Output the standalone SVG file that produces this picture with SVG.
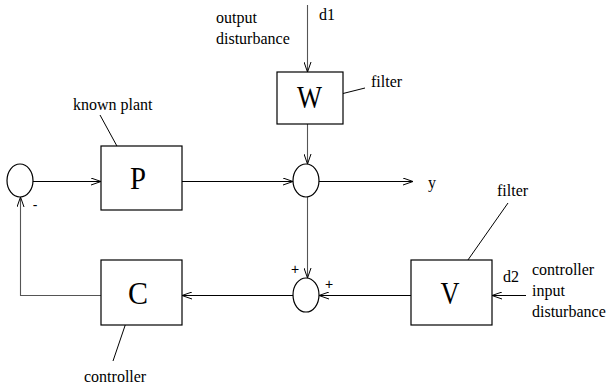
<svg xmlns="http://www.w3.org/2000/svg" width="606" height="388" viewBox="0 0 606 388">
<defs>
<style>
.box{fill:#fff;stroke:#000;stroke-width:1.2}
.sum{fill:none;stroke:#000;stroke-width:1.2}
.ln{fill:none;stroke:#000;stroke-width:1}
.vl{fill:none;stroke:#555;stroke-width:1.1}
.lbl{font-family:"Liberation Serif","Times New Roman",serif;font-size:16px;fill:#000}
.big{font-family:"Liberation Serif","Times New Roman",serif;font-size:32px;fill:#000;text-anchor:middle}
.sgn{font-family:"Liberation Sans",Arial,sans-serif;font-size:14px;fill:#000;text-anchor:middle}
</style>
<marker id="ah" viewBox="0 0 10 8" refX="10" refY="4" markerWidth="10" markerHeight="8" markerUnits="userSpaceOnUse" orient="auto">
<path d="M0,0.5 L10,4 L0,7.5" fill="none" stroke="#000" stroke-width="1"/>
</marker>
</defs>
<g id="connectors">
<line class="vl" x1="307.5" y1="5" x2="307.5" y2="72" marker-end="url(#ah)"/>
<line class="vl" x1="307.5" y1="124" x2="307.5" y2="164" marker-end="url(#ah)"/>
<line class="ln" x1="33" y1="181.5" x2="101" y2="181.5" marker-end="url(#ah)"/>
<line class="ln" x1="182" y1="181.5" x2="293" y2="181.5" marker-end="url(#ah)"/>
<line class="ln" x1="319" y1="181.5" x2="413" y2="181.5" marker-end="url(#ah)"/>
<line class="vl" x1="307.5" y1="197" x2="307.5" y2="278" marker-end="url(#ah)"/>
<line class="ln" x1="526" y1="295.5" x2="492" y2="295.5" marker-end="url(#ah)"/>
<line class="ln" x1="411" y1="295.5" x2="319" y2="295.5" marker-end="url(#ah)"/>
<line class="ln" x1="293" y1="295.5" x2="182" y2="295.5" marker-end="url(#ah)"/>
<polyline class="vl" points="101,295.5 20.5,295.5 20.5,197" marker-end="url(#ah)"/>
<line class="ln" x1="337" y1="95" x2="365" y2="88"/>
<line class="ln" x1="508" y1="203" x2="463" y2="267"/>
<line class="ln" x1="100" y1="115" x2="124" y2="159"/>
<line class="ln" x1="130" y1="311" x2="113" y2="361"/>
</g>
<g id="sum1"><ellipse class="sum" cx="20" cy="180.5" rx="13" ry="16.5"/></g>
<g id="sum2"><ellipse class="sum" cx="306" cy="180.5" rx="13" ry="16.5"/></g>
<g id="sum3"><ellipse class="sum" cx="306" cy="295" rx="13" ry="17"/></g>
<g id="P"><rect class="box" x="101" y="146" width="81" height="64"/><text class="big" x="138" y="189" textLength="16" lengthAdjust="spacingAndGlyphs">P</text></g>
<g id="W"><rect class="box" x="277" y="72" width="66" height="52"/><text class="big" x="309.5" y="108" textLength="25" lengthAdjust="spacingAndGlyphs">W</text></g>
<g id="C"><rect class="box" x="101" y="260" width="81" height="65"/><text class="big" x="138" y="304" textLength="20" lengthAdjust="spacingAndGlyphs">C</text></g>
<g id="V"><rect class="box" x="411" y="260" width="81" height="65"/><text class="big" x="450" y="304" textLength="19" lengthAdjust="spacingAndGlyphs">V</text></g>
<g id="labels">
<text class="lbl" x="216" y="23">output</text>
<text class="lbl" x="216" y="44">disturbance</text>
<text class="lbl" x="319" y="20">d1</text>
<text class="lbl" x="371" y="87">filter</text>
<text class="lbl" x="73" y="110">known plant</text>
<text class="lbl" x="428" y="188">y</text>
<text class="lbl" x="497" y="196">filter</text>
<text class="lbl" x="503" y="282">d2</text>
<text class="lbl" x="532" y="275">controller</text>
<text class="lbl" x="532" y="296">input</text>
<text class="lbl" x="532" y="317">disturbance</text>
<text class="lbl" x="84" y="382">controller</text>
<text class="sgn" x="295" y="274">+</text>
<text class="sgn" x="329" y="289">+</text>
<text class="sgn" x="35" y="210">-</text>
</g>
</svg>
